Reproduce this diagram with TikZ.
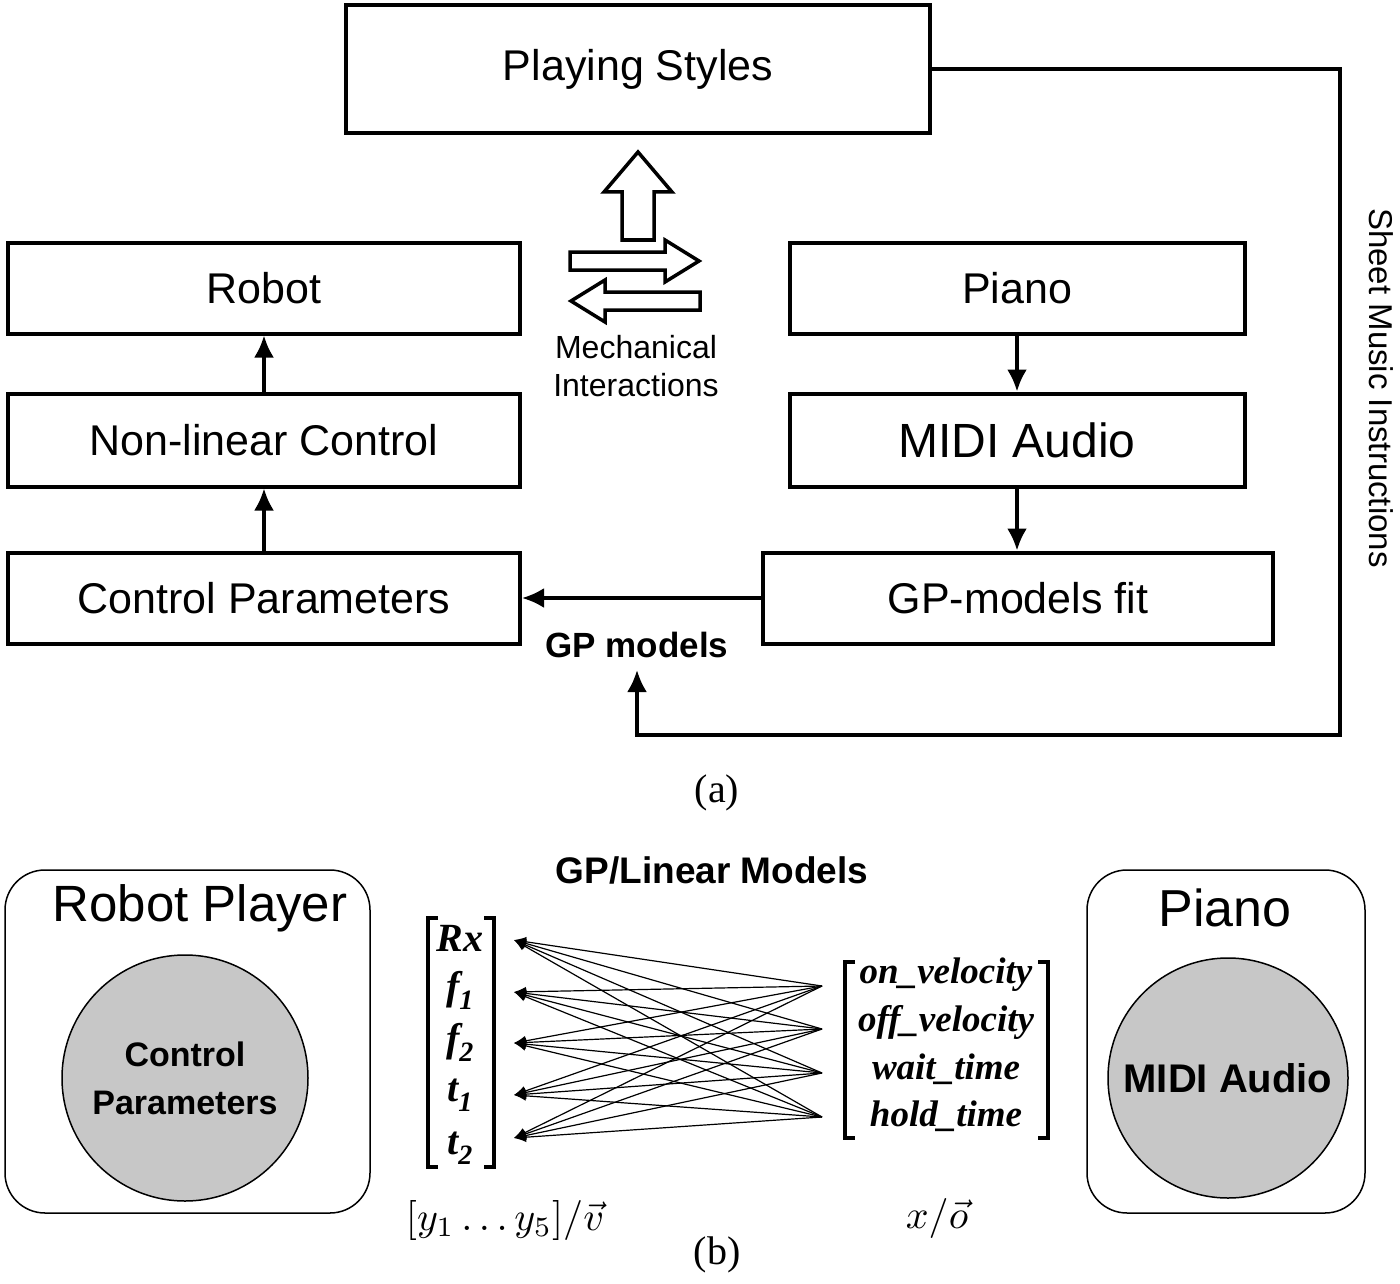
\documentclass[tikz,border=0pt]{standalone}
\usepackage{fontspec}
\usepackage{graphicx}
\setmainfont{Liberation Sans}
\newfontfamily\tms{Liberation Serif}
\usetikzlibrary{arrows.meta,shapes.arrows}
\begin{document}
\begin{tikzpicture}[x=1pt,y=-1pt,
  box/.style={draw,line width=4pt,font=\fontsize{43}{46}\selectfont},
  arr/.style={line width=3.5pt,-{Latex[length=22pt,width=20pt]}},
  hol/.style={draw,line width=3.5pt,fill=white},
  rb/.style={draw,line width=1.5pt,rounded corners=40pt},
  circ/.style={circle,draw,line width=1.5pt,fill=black!22,font=\bfseries\fontsize{34}{48}\selectfont,align=center},
  ml/.style={font=\tms\bfseries\itshape\fontsize{40}{42}\selectfont},
  mr/.style={font=\tms\bfseries\itshape\fontsize{37}{40}\selectfont},
  br/.style={line width=3.5pt},
  edge/.style={line width=1.2pt,-{Latex[length=12pt,width=10pt]}}]
\useasboundingbox (0,0) rectangle (1400,1284);
% top part
\node[box,minimum width=584pt,minimum height=128pt] (ps) at (638,69) {Playing Styles};
\node[box,minimum width=512pt,minimum height=91pt] (robot) at (264,288) {Robot};
\node[box,minimum width=512pt,minimum height=93pt] (nlc) at (264,440) {Non-linear Control};
\node[box,minimum width=512pt,minimum height=91pt] (cp) at (264,598) {Control Parameters};
\node[box,minimum width=455pt,minimum height=91pt] (piano) at (1017,288) {Piano};
\node[box,minimum width=455pt,minimum height=93pt,font=\fontsize{48}{50}\selectfont] (midi) at (1017,440) {MIDI Audio};
\node[box,minimum width=510pt,minimum height=91pt] (gpf) at (1018,598) {GP-models fit};
\draw[arr] (cp.north) -- (nlc.south);
\draw[arr] (nlc.north) -- (robot.south);
\draw[arr] (piano.south) -- (midi.north);
\draw[arr] (midi.south) -- (midi.south |- gpf.north);
\draw[arr] (gpf.west) -- (cp.east);
\node[font=\bfseries\fontsize{35}{38}\selectfont] (gpm) at (637,645) {GP models};
\coordinate (c1) at (1340,69);
\coordinate (c2) at (1340,735);
\coordinate (c3) at (637,735);
\draw[arr] (ps.east) -- (c1) -- (c2) -- (c3) -- (637,670);
\node[rotate=-90,font=\fontsize{33}{36}\selectfont] (smi) at (1381,388) {Sheet Music Instructions};
% hollow arrows
\draw[hol] (622,240) -- (622,192) -- (604,192) -- (638,152) -- (672,192) -- (654,192) -- (654,240) -- cycle;
\draw[hol] (570,252) -- (665,252) -- (665,240) -- (699,261) -- (665,282) -- (665,270) -- (570,270) -- cycle;
\draw[hol] (700,292) -- (605,292) -- (605,280) -- (571,301) -- (605,322) -- (605,310) -- (700,310) -- cycle;
\node[font=\fontsize{32}{38}\selectfont,align=center] (mi) at (636,366) {Mechanical\\Interactions};
\node[font=\tms\fontsize{40}{42}\selectfont] (la) at (717,793) {(a)};
% bottom part
\draw[rb] (5,870) rectangle (370,1213);
\node[font=\fontsize{51}{54}\selectfont] (rp) at (200,908) {Robot Player};
\node[circ,minimum size=246pt] (ccp) at (185,1078) {Control\\Parameters};
\draw[rb] (1087,870) rectangle (1365,1213);
\node[font=\fontsize{52}{54}\selectfont] (pn) at (1225,908) {Piano};
\node[circ,minimum size=240pt,font=\bfseries\fontsize{40}{44}\selectfont] (cmidi) at (1228,1078) {MIDI Audio};
\node[font=\bfseries\fontsize{37}{40}\selectfont] (gpl) at (712,870) {GP/Linear Models};
% left matrix
\node[ml] (rx) at (460,938) {Rx};
\node[ml] (f1) at (460,990) {f\textsubscript{1}};
\node[ml] (f2) at (460,1042) {f\textsubscript{2}};
\node[ml] (t1) at (460,1095) {t\textsubscript{1}};
\node[ml] (t2) at (460,1148) {t\textsubscript{2}};
\draw[br] (438,918) -- (428,918) -- (428,1167) -- (438,1167);
\draw[br] (484,918) -- (494,918) -- (494,1167) -- (484,1167);
% right matrix
\node[mr] (on) at (946,975) {on\_velocity};
\node[mr] (off) at (946,1022) {off\_velocity};
\node[mr] (wt) at (946,1069) {wait\_time};
\node[mr] (ht) at (946,1116) {hold\_time};
\draw[br] (855,962) -- (845,962) -- (845,1138) -- (855,1138);
\draw[br] (1038,962) -- (1048,962) -- (1048,1138) -- (1038,1138);
% edges
\coordinate (L1) at (514,940);
\coordinate (L2) at (514,992);
\coordinate (L3) at (514,1043);
\coordinate (L4) at (514,1095);
\coordinate (L5) at (514,1138);
\coordinate (R1) at (822,986);
\coordinate (R2) at (822,1029);
\coordinate (R3) at (822,1073);
\coordinate (R4) at (822,1117);
\foreach \r in {R1,R2,R3,R4}{\foreach \l in {L1,L2,L3,L4,L5}{\draw[edge] (\r) -- (\l);}}
\node (vy) at (505,1220) {\scalebox{4}{$[y_1\ldots y_5]/\vec{v}$}};
\node (vx) at (937,1218) {\scalebox{4}{$x/\vec{o}$}};
\node[font=\tms\fontsize{40}{42}\selectfont] (lb) at (717,1255) {(b)};
\end{tikzpicture}
\end{document}
